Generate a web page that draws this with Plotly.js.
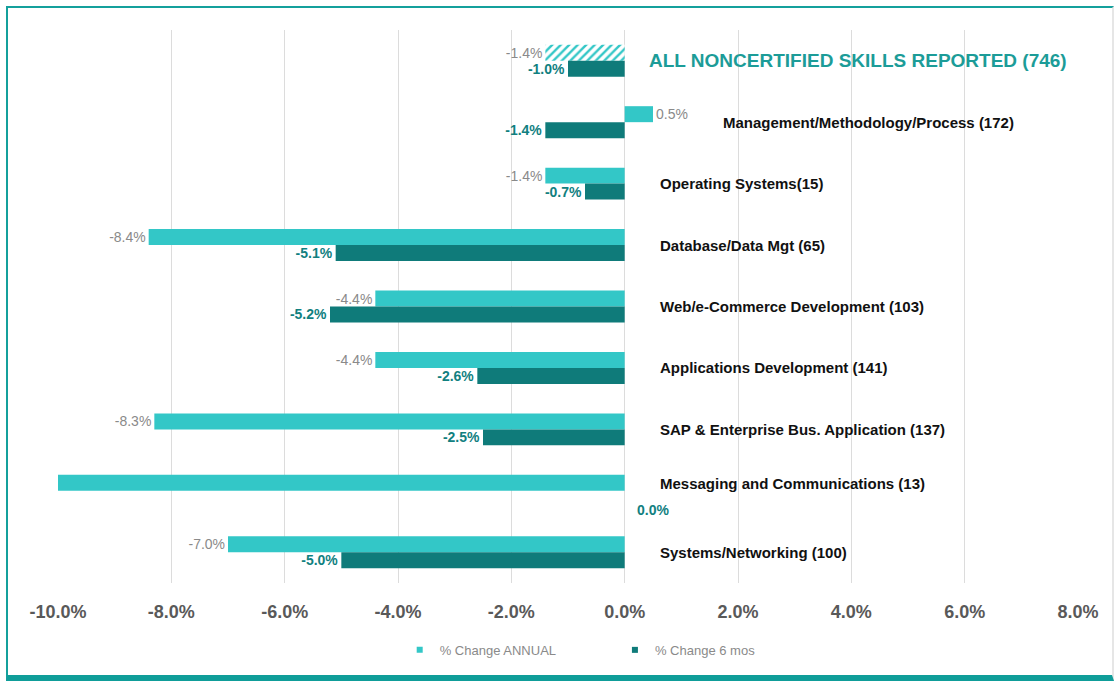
<!DOCTYPE html>
<html>
<head>
<meta charset="utf-8">
<script src="https://cdn.plot.ly/plotly-3.0.1.min.js"></script>
<style>
  html, body { margin: 0; padding: 0; background: #ffffff; }
  #frame {
    position: absolute; left: 6px; top: 6px; width: 1108px; height: 675px;
    border-left: 2px solid #14a09c; border-top: 2px solid #14a09c;
    border-right: 2px solid #e6e6e6; border-bottom: 6px solid #0f9d99;
    box-sizing: border-box; pointer-events: none; z-index: 10;
  }
  #chart { position: absolute; left: 0; top: 0; width: 1119px; height: 681px; }
</style>
</head>
<body>
<div id="chart"></div>
<div id="frame"></div>
<script>
const categories = [
  "ALL NONCERTIFIED SKILLS REPORTED (746)",
  "Management/Methodology/Process (172)",
  "Operating Systems(15)",
  "Database/Data Mgt (65)",
  "Web/e-Commerce Development (103)",
  "Applications Development (141)",
  "SAP & Enterprise Bus. Application (137)",
  "Messaging and Communications (13)",
  "Systems/Networking (100)"
];
const annualChange = [-1.4, 0.5, -1.4, -8.4, -4.4, -4.4, -8.3, -10.0, -7.0];
const sixMonthChange = [-1.0, -1.4, -0.7, -5.1, -5.2, -2.6, -2.5, 0.0, -5.0];
const annualLabels = ["-1.4%", "0.5%", "-1.4%", "-8.4%", "-4.4%", "-4.4%", "-8.3%", "", "-7.0%"];
const sixMonthLabels = ["-1.0%", "-1.4%", "-0.7%", "-5.1%", "-5.2%", "-2.6%", "-2.5%", "0.0%", "-5.0%"];
const xTicks = [-10, -8, -6, -4, -2, 0, 2, 4, 6, 8];
const xTickLabels = ["-10.0%", "-8.0%", "-6.0%", "-4.0%", "-2.0%", "0.0%", "2.0%", "4.0%", "6.0%", "8.0%"];
const seriesNames = ["% Change ANNUAL", "% Change 6 mos"];

const COL_ANNUAL = "#33c7c7";
const COL_SIX = "#0f7b7a";
const FONT = "Liberation Sans, Arial, sans-serif";
const SIX_FONT = { family: FONT, size: 14, color: "#11807f", weight: "bold" };

const traces = [
  {
    type: "bar", orientation: "h", name: seriesNames[0], showlegend: false,
    y: categories, x: annualChange,
    text: annualLabels, textposition: "outside", cliponaxis: false,
    textfont: { family: FONT, size: 14, color: "#8a8a8a" },
    marker: {
      color: COL_ANNUAL,
      pattern: {
        shape: annualChange.map((v, i) => i === 0 ? "/" : ""),
        fgcolor: COL_ANNUAL, bgcolor: "#ffffff", size: 6, solidity: 0.4,
        fillmode: "replace"
      }
    }
  },
  {
    type: "bar", orientation: "h", name: seriesNames[1], showlegend: false,
    y: categories, x: sixMonthChange,
    text: sixMonthLabels.map((t, i) => sixMonthChange[i] === 0 ? "" : t),
    textposition: "outside", cliponaxis: false,
    textfont: SIX_FONT,
    marker: { color: COL_SIX }
  },
  {
    type: "scatter", mode: "markers", name: seriesNames[0], legend: "legend",
    x: [null], y: [null], xaxis: "x2", yaxis: "y2",
    marker: { symbol: "square", size: 6, color: COL_ANNUAL }
  },
  {
    type: "scatter", mode: "markers", name: seriesNames[1], legend: "legend2",
    x: [null], y: [null], xaxis: "x2", yaxis: "y2",
    marker: { symbol: "square", size: 6, color: COL_SIX }
  }
];

const annotations = categories.map((c, i) => ({
  xref: "x", yref: "y",
  x: annualChange[i] > 0 ? annualChange[i] + 1.2 : (i === 0 ? 0.4 : 0.58),
  y: c, text: c, showarrow: false, xanchor: "left", yanchor: "middle",
  yshift: sixMonthChange[i] === 0 ? 7 : 0,
  font: i === 0
    ? { family: FONT, size: 19, color: "#1c9c98", weight: "bold" }
    : { family: FONT, size: 15, color: "#111111", weight: "bold" }
}));
// zero-valued 6-month labels placed below the group, as in the source chart
sixMonthChange.forEach((v, i) => {
  if (v === 0) {
    annotations.push({
      xref: "x", yref: "y", x: v, y: categories[i], text: sixMonthLabels[i],
      showarrow: false, xanchor: "left", yanchor: "middle",
      xshift: 10, yshift: -19, font: SIX_FONT
    });
  }
});

const legendFont = { family: FONT, size: 13, color: "#8a8a8a" };

const layout = {
  width: 1119, height: 681,
  paper_bgcolor: "#ffffff", plot_bgcolor: "#ffffff",
  margin: { l: 58, r: 41, t: 30, b: 98 },
  barmode: "group", bargap: 0.48, bargroupgap: 0,
  showlegend: true,
  legend: {
    orientation: "h", x: 0.335, xanchor: "left", y: -0.121, yanchor: "middle",
    font: legendFont, itemwidth: 30, bgcolor: "rgba(0,0,0,0)"
  },
  legend2: {
    orientation: "h", x: 0.546, xanchor: "left", y: -0.121, yanchor: "middle",
    font: legendFont, itemwidth: 30, bgcolor: "rgba(0,0,0,0)"
  },
  xaxis: {
    range: [-10, 8], tickvals: xTicks, ticktext: xTickLabels,
    showgrid: true, gridcolor: "#dcdcdc", gridwidth: 1,
    zeroline: false, showline: false, ticks: "",
    ticklabelstandoff: 16,
    tickfont: { family: FONT, size: 18, color: "#595959", weight: "bold" }
  },
  yaxis: {
    type: "category", autorange: "reversed", showticklabels: false,
    showgrid: false, zeroline: false, showline: false, ticks: ""
  },
  xaxis2: { overlaying: "x", visible: false, range: [0, 1] },
  yaxis2: { overlaying: "y", visible: false, range: [0, 1] },
  annotations: annotations
};

Plotly.newPlot("chart", traces, layout, { displayModeBar: false, staticPlot: true });
</script>
</body>
</html>
